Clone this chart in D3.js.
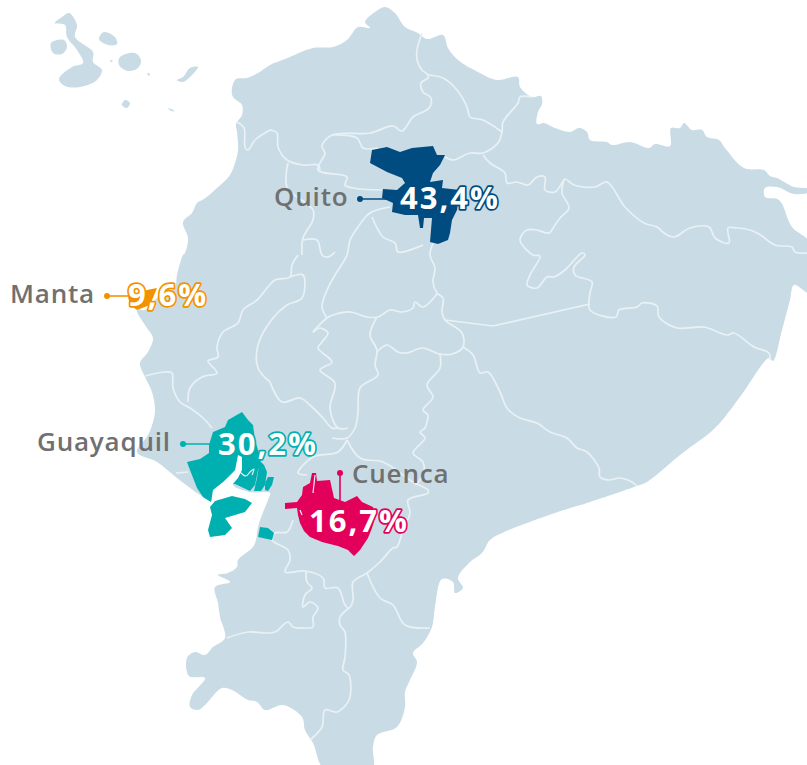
<!DOCTYPE html>
<html>
<head>
<meta charset="utf-8">
<script src="https://cdn.jsdelivr.net/npm/d3@7"></script>
<style>
  html, body { margin: 0; padding: 0; background: #fff; }
  svg { display: block; }
  .city { font-family: "Open Sans", sans-serif; font-weight: 600; font-size: 26px; fill: #707070; letter-spacing: 0.8px; }
  .share { font-family: "Open Sans", sans-serif; font-weight: 700; font-size: 31px; fill: #fff; paint-order: stroke; stroke-width: 3.4px; stroke-linejoin: round; letter-spacing: 2px; }
</style>
</head>
<body>
<div id="chart"></div>
<script>
const width = 807;
const height = 765;

// Values
const cities = ["Quito", "Manta", "Guayaquil", "Cuenca"];
const shares = [43.4, 9.6, 30.2, 16.7];
const cityColors = ["#004b80", "#f39200", "#00b0b0", "#e2005a"];

// Map geometry (map units)
const mainland = [[270,65],[285,59],[313,48],[333,47],[347,40],[358,27],[370,28],[365,22],[375,12],[385,7],[395,13],[405,27],[418,33],[427,39],[443,35],[448,48],[458,60],[478,72],[497,80],[518,77],[520,87],[532,97],[541,96],[542,104],[538,112],[537,124],[544,123],[555,128],[570,132],[579,128],[587,132],[590,140],[607,142],[612,145],[630,142],[649,148],[655,144],[670,146],[671,128],[680,128],[684,123],[692,130],[702,130],[707,137],[719,140],[725,148],[744,168],[764,170],[770,176],[777,178],[794,187],[810,189],[810,192],[794,194],[777,187],[765,188],[765,197],[779,200],[792,227],[810,243],[810,293],[794,285],[790,300],[782,330],[773,361],[769,358],[740,397],[715,428],[680,455],[647,482],[637,486],[590,502],[555,513],[502,533],[490,540],[482,553],[470,562],[458,578],[463,588],[455,593],[453,582],[442,579],[435,607],[432,627],[423,643],[413,653],[417,662],[410,680],[405,692],[405,707],[397,727],[377,735],[373,747],[372,770],[325,770],[313,743],[305,730],[302,717],[283,705],[265,710],[257,702],[248,700],[232,690],[222,688],[205,705],[198,710],[190,707],[192,695],[205,678],[189,676],[187,658],[195,652],[205,655],[213,647],[225,638],[220,617],[218,603],[215,587],[230,582],[218,575],[228,573],[237,567],[238,560],[253,547],[256,540],[258,527],[262,515],[268,500],[270,493],[250,492],[233,485],[238,478],[242,470],[242,457],[238,455],[235,470],[223,482],[213,490],[211,501],[200,495],[177,478],[157,462],[137,452],[148,435],[153,422],[155,410],[152,392],[145,377],[140,363],[148,352],[153,338],[147,328],[137,310],[145,310],[157,298],[165,293],[175,287],[177,275],[183,255],[185,253],[188,238],[183,222],[192,213],[197,203],[204,199],[217,188],[230,175],[235,163],[238,150],[237,132],[236,124],[242,115],[242,105],[233,97],[232,88],[236,79],[247,78],[258,73]];

const islands = [
  [[55,23],[62,17],[69,13],[77,25],[75,37],[93,52],[93,62],[102,70],[97,80],[80,87],[65,86],[59,79],[72,67],[83,63],[77,50],[67,37],[65,25]],
  [[51,43],[64,40],[67,47],[62,54],[53,53]],
  [[104,32],[115,37],[117,44],[108,45],[99,39]],
  [[120,57],[135,53],[141,60],[138,68],[128,71],[119,65]],
  [[198,67],[190,68],[183,77],[177,80],[183,82],[192,75]],
  [[125,100],[130,103],[127,108],[122,105]],
  [[168,108],[175,111],[171,111]],
  [[147,73],[150,74],[149,76]],
  [[110,60],[113,61],[111,62]]
];

const borders = [
  [[422,33],[417,50],[417,60],[422,70],[428,75],[428,78],[421,83],[423,92],[431,98],[429,108],[413,117],[402,131],[393,126],[370,133],[332,135],[322,146],[325,153],[318,170],[347,177],[345,185],[353,188],[382,190]],
  [[428,75],[443,78],[457,90],[467,107],[470,117],[483,120],[502,132]],
  [[532,97],[520,97],[518,103],[503,122],[502,132],[498,143],[483,153],[470,153],[453,160],[445,157]],
  [[483,155],[490,163],[505,173],[507,183],[517,182],[528,185],[537,177],[545,177],[545,190],[555,192],[562,183],[565,179],[574,185],[595,187],[607,182],[625,207],[644,223],[657,227],[664,233],[674,237],[690,228],[709,227],[715,238],[729,243],[728,228],[737,228],[750,230],[759,234],[775,245],[792,247],[795,252],[810,253]],
  [[564,180],[562,193],[569,208],[560,218],[555,225],[549,233],[537,230],[527,230],[520,240],[533,255],[540,256],[530,275],[527,285],[537,288],[547,277],[554,277],[565,270],[582,253],[585,255],[574,267],[575,275],[592,282],[590,293],[590,310],[616,317],[619,310],[637,307],[642,303],[657,306],[659,317],[677,328],[704,327],[727,335],[734,333],[754,347],[769,353],[770,360]],
  [[463,347],[473,355],[480,373],[488,372],[500,392],[507,408],[520,418],[537,423],[550,432],[567,438],[577,448],[587,452],[599,468],[600,477],[609,480],[620,478],[632,482],[637,486]],
  [[433,243],[430,255],[435,268],[433,282],[437,293],[443,298],[442,312],[445,320],[462,333],[463,347],[452,354],[440,354],[422,348],[407,353],[398,352],[387,345],[377,352]],
  [[437,294],[423,307],[415,302],[413,308],[402,312],[390,310],[378,317],[367,317],[350,312],[333,315],[327,318],[313,332],[320,328],[328,333],[322,342],[318,348],[332,362],[320,370],[335,383],[330,408],[338,428],[348,428]],
  [[377,317],[370,335],[377,350],[375,365],[378,375],[360,388],[358,412],[355,428],[347,438],[332,438]],
  [[327,318],[322,307],[328,288],[335,275],[347,255],[350,240],[358,227],[370,213],[390,207]],
  [[347,440],[338,452],[313,457],[298,473],[307,475]],
  [[347,440],[360,458],[383,462],[413,482],[428,490],[428,493],[408,500],[410,513],[403,530],[397,547],[393,548],[380,562],[367,573],[353,582],[353,600],[349,608],[345,605],[338,588],[325,588],[323,578],[305,571],[285,572],[290,560],[288,550],[272,540],[275,533],[287,532],[293,520]],
  [[440,354],[440,368],[427,385],[433,397],[423,410],[428,415],[427,422],[425,428],[420,432],[425,438],[413,453],[423,462],[423,475],[415,485]],
  [[270,382],[282,402],[300,398],[312,407],[323,418],[332,428],[338,428]],
  [[298,255],[292,265],[290,277],[275,280],[257,300],[243,310],[238,323],[223,332],[217,347],[218,357],[208,361],[217,373],[202,377],[190,388],[188,402]],
  [[290,277],[303,275],[302,298],[287,305],[273,318],[258,345],[258,368],[270,382]],
  [[145,376],[165,372],[172,373],[173,388],[180,402],[190,408],[203,418],[212,428]],
  [[176,473],[188,472]],
  [[270,130],[277,133],[278,147],[287,160],[303,165],[318,165],[320,170]],
  [[332,135],[357,138],[363,148],[378,148]],
  [[288,163],[287,187],[313,210],[313,220],[303,238],[302,255]],
  [[303,240],[317,240],[322,255],[328,257],[335,252]],
  [[372,217],[383,237],[395,243],[398,252],[423,245]],
  [[237,122],[244,128],[245,147],[248,150],[255,140],[270,130]],
  [[367,573],[380,598],[393,605],[405,625],[430,628]],
  [[349,608],[340,617],[340,625],[345,632],[345,657],[343,670],[349,675],[349,700],[337,712],[325,710],[322,727],[310,740]],
  [[306,572],[307,582],[312,588],[305,595],[303,607],[310,602],[318,608],[313,617],[313,627],[307,628],[293,627],[288,622],[275,632],[265,633],[248,632],[227,638]]
];

// The one border that runs dead straight
const straightBorder = [[445,320],[493,326],[590,304]];

// One entry per city, same order as cities
const cityShapes = [
  [[[372,150],[387,147],[400,152],[412,148],[433,146],[437,155],[445,155],[440,165],[433,173],[430,182],[443,180],[442,188],[460,190],[457,210],[452,220],[450,233],[448,240],[438,244],[430,242],[432,218],[424,218],[423,228],[420,228],[418,215],[405,215],[392,212],[393,203],[382,198],[383,189],[397,190],[405,183],[402,178],[387,172],[370,163]]],
  [[[128,297],[147,290],[157,288],[150,305],[137,310],[130,305]]],
  [[[187,462],[200,459],[209,453],[209,445],[213,432],[225,427],[228,420],[242,412],[248,420],[253,425],[255,440],[258,450],[261,459],[258,470],[255,485],[250,491],[235,484],[233,484],[238,478],[242,470],[242,457],[238,455],[235,470],[223,482],[213,490],[211,502],[203,497],[197,488],[190,470]],
   [[260,461],[264,465],[267,472],[265,485],[261,491],[254,491],[257,478],[259,466]],
   [[274,477],[268,477],[265,483],[265,490],[268,491],[272,485]],
   [[215,501],[232,496],[245,499],[252,503],[245,512],[225,518],[232,528],[225,535],[210,537],[208,530],[212,515],[210,507]],
   [[260,527],[268,528],[274,533],[272,540],[258,537]]],
  [[[285,503],[297,502],[302,495],[303,487],[310,483],[312,473],[316,473],[317,481],[330,480],[334,498],[345,502],[357,496],[362,502],[373,507],[375,517],[372,528],[368,538],[360,550],[354,556],[348,550],[338,546],[322,542],[310,537],[304,531],[300,523],[298,515],[297,508],[285,509]]]
];

// White river lines drawn over the city shapes
const cityRivers = [
  [[240,472],[246,476],[250,472],[254,469],[252,475]],
  [[315,475],[313,493]],
  [[300,510],[302,515]]
];

// Labels
const labelPos = [[274,206],[10,303],[37,451],[352,483]];
const sharePos = [[400,209],[128,306],[218,455],[309,532]];
const leaders = [[[360,199],[400,199]],[[107,296],[132,296]],[[183,444],[218,444]],[[340,473],[340,503]]];

const svg = d3.select("#chart")
    .append("svg")
    .attr("width", width)
    .attr("height", height);

const ringLine = d3.line().curve(d3.curveCatmullRomClosed.alpha(0.5));
const cornerRing = d3.line().curve(d3.curveLinearClosed);
const riverLine = d3.line().curve(d3.curveCatmullRom.alpha(0.5));

// Land
svg.append("path")
    .attr("d", [mainland].concat(islands).map(ringLine).join(""))
    .attr("fill", "#c9dce6");

// Province borders
svg.append("g").selectAll("path")
    .data(borders)
  .enter().append("path")
    .attr("d", riverLine)
    .attr("fill", "none")
    .attr("stroke", "#e9f1f5")
    .attr("stroke-width", 1.7);

svg.append("path")
    .attr("d", d3.line()(straightBorder))
    .attr("fill", "none")
    .attr("stroke", "#e9f1f5")
    .attr("stroke-width", 1.7);

// City areas
cities.forEach((city, i) => {
    svg.append("path")
        .attr("d", cityShapes[i].map(cornerRing).join(""))
        .attr("fill", cityColors[i]);
});

svg.append("g").selectAll("path")
    .data(cityRivers)
  .enter().append("path")
    .attr("d", riverLine)
    .attr("fill", "none")
    .attr("stroke", "#e9f1f5")
    .attr("stroke-width", 1.2);

// Leaders and labels
cities.forEach((city, i) => {
    const [a, b] = leaders[i];
    svg.append("line")
        .attr("x1", a[0]).attr("y1", a[1])
        .attr("x2", b[0]).attr("y2", b[1])
        .attr("stroke", cityColors[i])
        .attr("stroke-width", 1.6);
    svg.append("circle")
        .attr("cx", a[0]).attr("cy", a[1])
        .attr("r", 3)
        .attr("fill", cityColors[i]);

    svg.append("text")
        .attr("class", "city")
        .attr("x", labelPos[i][0])
        .attr("y", labelPos[i][1])
        .text(city);

    svg.append("text")
        .attr("class", "share")
        .attr("x", sharePos[i][0])
        .attr("y", sharePos[i][1])
        .attr("stroke", cityColors[i])
        .text(shares[i].toFixed(1).replace(".", ",") + "%");
});
</script>
</body>
</html>
